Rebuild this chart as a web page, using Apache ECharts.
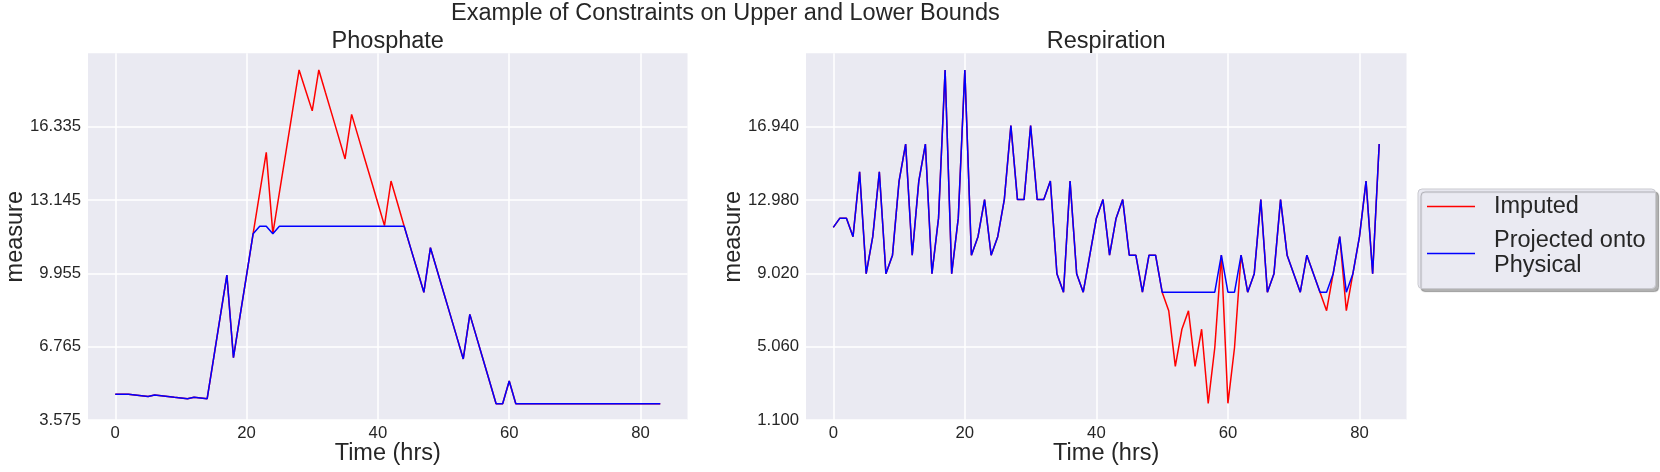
<!DOCTYPE html>
<html>
<head>
<meta charset="utf-8">
<script src="https://cdn.jsdelivr.net/npm/echarts@6/dist/echarts.min.js"></script>
<style>
html,body{margin:0;padding:0;background:#ffffff;}
#chart{width:1660px;height:472px;}
</style>
</head>
<body>
<div id="chart"></div>
<script>
// ---- data ----
const xTicks = [0, 20, 40, 60, 80];
const phosphateTicks = [3.575, 6.765, 9.955, 13.145, 16.335];
const respirationTicks = [1.100, 5.060, 9.020, 12.980, 16.940];

const seriesNames = ['Imputed', 'Projected onto\nPhysical'];

const phosphateImputed = [
  4.69,4.69,4.69,4.66,4.63,4.60,4.66,4.63,4.60,4.56,4.53,4.50,4.56,4.53,4.50,
  6.29,8.09,9.88,6.29,8.09,9.88,11.68,
  13.45,15.22,11.68,13.46,15.24,17.02,18.80,
  17.91,17.02,18.80,17.83,16.87,15.90,14.93,
  16.87,15.90,14.93,13.97,13.00,12.03,13.97,12.99,12.00,
  11.04,10.09,9.13,11.07,10.10,9.13,8.17,7.20,6.23,
  8.17,7.20,6.23,5.26,4.285,4.285,5.27,
  4.285,4.285,4.285,4.285,4.285,4.285,4.285,4.285,4.285,4.285,4.285,4.285,
  4.285,4.285,4.285,4.285,4.285,4.285,4.285,4.285,4.285,4.285,4.285
];
const phosphateProjected = [
  4.69,4.69,4.69,4.66,4.63,4.60,4.66,4.63,4.60,4.56,4.53,4.50,4.56,4.53,4.50,
  6.29,8.09,9.88,6.29,8.09,9.88,11.68,
  12.00,12.00,11.68,12.00,12.00,12.00,12.00,
  12.00,12.00,12.00,12.00,12.00,12.00,12.00,
  12.00,12.00,12.00,12.00,12.00,12.00,12.00,12.00,12.00,
  11.04,10.09,9.13,11.07,10.10,9.13,8.17,7.20,6.23,
  8.17,7.20,6.23,5.26,4.285,4.285,5.27,
  4.285,4.285,4.285,4.285,4.285,4.285,4.285,4.285,4.285,4.285,4.285,4.285,
  4.285,4.285,4.285,4.285,4.285,4.285,4.285,4.285,4.285,4.285,4.285
];
const respirationImputed = [
  11.5,12,12,11,14.5,9,11,14.5,9,10,
  14,16,10,14,16,9,12,20,9,12,
  20,10,11,13,10,11,13,17,13,13,
  17,13,13,14,9,8,14,9,8,10,
  12,13,10,12,13,10,10,8,10,10,
  8,7,4,6,7,4,6,2,5,10,
  2,5,10,8,9,13,8,9,13,10,
  9,8,10,9,8,7,9,11,7,9,
  11,14,9,16
];
const respirationProjected = [
  11.5,12,12,11,14.5,9,11,14.5,9,10,
  14,16,10,14,16,9,12,20,9,12,
  20,10,11,13,10,11,13,17,13,13,
  17,13,13,14,9,8,14,9,8,10,
  12,13,10,12,13,10,10,8,10,10,
  8,8,8,8,8,8,8,8,8,10,
  8,8,10,8,9,13,8,9,13,10,
  9,8,10,9,8,8,9,11,8,9,
  11,14,9,16
];

// ---- styling ----
const FONT = '"Liberation Sans", Arial, Helvetica, sans-serif';
const TXT = '#262626';
const BG = '#eaeaf2';

function toPairs(arr) { return arr.map((v, i) => [i, v]); }

function xAxisCfg(gridIndex) {
  return {
    type: 'value', gridIndex: gridIndex, min: -4.15, max: 87.15,
    axisLine: { show: false },
    axisTick: { show: false, customValues: xTicks },
    axisLabel: { customValues: xTicks, margin: 5, fontSize: 16.7, color: TXT, fontFamily: FONT },
    splitLine: { show: true, lineStyle: { color: '#ffffff', width: 1.5 } }
  };
}
function yAxisCfg(gridIndex, min, max, ticks) {
  return {
    type: 'value', gridIndex: gridIndex, min: min, max: max,
    axisLine: { show: false },
    axisTick: { show: false, customValues: ticks },
    axisLabel: { customValues: ticks, margin: 7, fontSize: 16.7, color: TXT, fontFamily: FONT,
                 formatter: v => Number(v).toFixed(3) },
    splitLine: { show: true, lineStyle: { color: '#ffffff', width: 1.5 } }
  };
}
function lineSeries(name, data, color, xi) {
  return {
    type: 'line', name: name, data: toPairs(data), xAxisIndex: xi, yAxisIndex: xi,
    symbol: 'none', showSymbol: false, silent: true,
    lineStyle: { color: color, width: 1.5 }, itemStyle: { color: color },
    emphasis: { disabled: true }
  };
}
function txt(text, x, y, size, rot) {
  return {
    type: 'text', x: x, y: y, rotation: rot || 0, silent: true,
    style: { text: text, fontSize: size, fontFamily: FONT, fill: TXT, align: 'center', verticalAlign: 'middle' }
  };
}

const chart = echarts.init(document.getElementById('chart'), null, { renderer: 'canvas' });
chart.setOption({
  animation: false,
  backgroundColor: '#ffffff',
  grid: [
    { left: 88, top: 53.3, width: 599.5, height: 366.7, show: true, backgroundColor: BG, borderWidth: 0,
      containLabel: false, outerBoundsMode: 'none' },
    { left: 806, top: 53.3, width: 600.5, height: 366.7, show: true, backgroundColor: BG, borderWidth: 0,
      containLabel: false, outerBoundsMode: 'none' }
  ],
  xAxis: [xAxisCfg(0), xAxisCfg(1)],
  yAxis: [yAxisCfg(0, 3.575, 19.525, phosphateTicks), yAxisCfg(1, 1.1, 20.9, respirationTicks)],
  legend: {
    data: seriesNames, orient: 'vertical', left: 1418, top: 189,
    padding: [5, 10, 10, 9], itemGap: 9.5, itemWidth: 48, itemHeight: 1.5,
    icon: 'rect',
    selectedMode: false,
    textStyle: { fontSize: 23.5, lineHeight: 25, color: TXT, fontFamily: FONT, padding: [0, 0, 0, 14] },
    backgroundColor: BG, borderColor: '#c9c9cf', borderWidth: 1, borderRadius: 4,
    shadowBlur: 1, shadowOffsetX: 3, shadowOffsetY: 3, shadowColor: 'rgba(0,0,0,0.3)'
  },
  series: [
    lineSeries(seriesNames[0], phosphateImputed, '#ff0000', 0),
    lineSeries(seriesNames[1], phosphateProjected, '#0000ff', 0),
    lineSeries(seriesNames[0], respirationImputed, '#ff0000', 1),
    lineSeries(seriesNames[1], respirationProjected, '#0000ff', 1)
  ],
  graphic: [
    txt('Example of Constraints on Upper and Lower Bounds', 725.4, 13.9, 23.5),
    txt('Phosphate', 387.75, 41.9, 23.5),
    txt('Respiration', 1106.2, 41.9, 23.5),
    txt('Time (hrs)', 387.75, 453.6, 23.5),
    txt('Time (hrs)', 1106.2, 453.6, 23.5),
    txt('measure', 15.2, 236.7, 23.5, Math.PI / 2),
    txt('measure', 733.6, 236.7, 23.5, Math.PI / 2)
  ]
});
</script>
</body>
</html>
